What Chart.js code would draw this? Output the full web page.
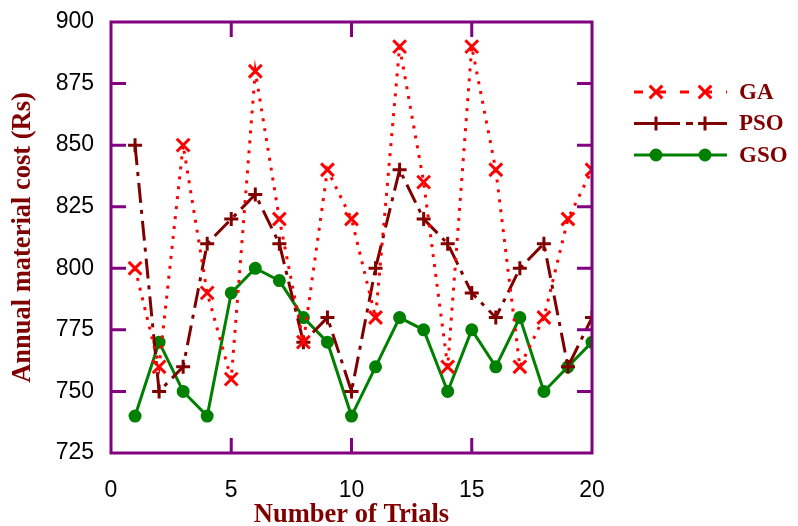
<!DOCTYPE html>
<html>
<head>
<meta charset="utf-8">
<script src="https://cdn.jsdelivr.net/npm/chart.js@4/dist/chart.umd.min.js"></script>
<style>
  html, body { margin: 0; padding: 0; background: #fff; }
  #wrap { width: 798px; height: 526px; }
</style>
</head>
<body>
<div id="wrap"><canvas id="chart" width="798" height="526"></canvas></div>
<script>
const trials = [1, 2, 3, 4, 5, 6, 7, 8, 9, 10, 11, 12, 13, 14, 15, 16, 17, 18, 19, 20];
const gaCost  = [800, 760, 850, 790, 755, 880, 820, 770, 840, 820, 780, 890, 835, 760, 890, 840, 760, 780, 820, 840];
const psoCost = [850, 750, 760, 810, 820, 830, 810, 770, 780, 750, 800, 840, 820, 810, 790, 780, 800, 810, 760, 780];
const gsoCost = [740, 770, 750, 740, 790, 800, 795, 780, 770, 740, 760, 780, 775, 750, 775, 760, 780, 750, 760, 770];

const FRAME = '#800080';
const TITLE = '#800000';

const pts = ys => trials.map((x, i) => ({ x, y: ys[i] }));

const series = [
  { label: 'GA',  data: gaCost,  color: '#ff0000', dash: [3, 7],        legendDash: [9, 14],        point: 'crossRot', radius: 9 },
  { label: 'PSO', data: psoCost, color: '#800000', dash: [20, 7, 4, 7], legendDash: [46, 6, 7, 6],  point: 'cross',    radius: 7 },
  { label: 'GSO', data: gsoCost, color: '#008000', dash: [],            legendDash: [],             point: 'circle',   radius: 5 },
];

// ── Frame, inside ticks and legend ──────────────────────────────────
const framePlugin = {
  id: 'frame',
  afterDraw(chart) {
    const { ctx, chartArea: a, scales: { x, y } } = chart;
    const tl = 15;
    ctx.save();
    ctx.strokeStyle = FRAME;
    ctx.lineWidth = 3;
    ctx.beginPath();
    for (let v = 5; v < 20; v += 5) {
      const px = x.getPixelForValue(v);
      ctx.moveTo(px, a.bottom); ctx.lineTo(px, a.bottom - tl);
      ctx.moveTo(px, a.top);    ctx.lineTo(px, a.top + tl);
    }
    for (let v = 750; v < 900; v += 25) {
      const py = y.getPixelForValue(v);
      ctx.moveTo(a.left, py);  ctx.lineTo(a.left + tl, py);
      ctx.moveTo(a.right, py); ctx.lineTo(a.right - tl, py);
    }
    ctx.stroke();
    ctx.strokeRect(a.left, a.top, a.right - a.left, a.bottom - a.top);

    // legend
    series.forEach((s, i) => {
      const ly = 92 + i * 31.5;
      ctx.strokeStyle = s.color;
      ctx.fillStyle = s.color;
      ctx.lineWidth = 3;
      ctx.setLineDash(s.legendDash);
      ctx.beginPath();
      ctx.moveTo(634, ly); ctx.lineTo(727, ly);
      ctx.stroke();
      ctx.setLineDash([]);
      for (const mx of [656, 705]) {
        Chart.helpers.drawPoint(ctx, {
          pointStyle: s.point, radius: s.radius, borderWidth: 3,
        }, mx, ly);
      }
      ctx.fillStyle = TITLE;
      ctx.font = 'bold 23px "Liberation Serif"';
      ctx.textBaseline = 'middle';
      ctx.fillText(s.label, 739, ly + 1);
    });
    ctx.restore();
  },
};

new Chart(document.getElementById('chart'), {
  type: 'line',
  data: {
    datasets: series.map(s => ({
      label: s.label,
      data: pts(s.data),
      borderColor: s.color,
      backgroundColor: s.color,
      borderWidth: 3,
      borderDash: s.dash,
      pointStyle: s.point,
      pointRadius: s.radius,
      pointBorderWidth: 3,
      pointBorderColor: s.color,
      pointBackgroundColor: s.color,
      tension: 0,
    })),
  },
  options: {
    responsive: false,
    animation: false,
    layout: { padding: { top: 22, right: 206, left: 0, bottom: 0 } },
    plugins: { legend: { display: false }, tooltip: { enabled: false } },
    scales: {
      x: {
        type: 'linear', min: 0, max: 20,
        grid: { display: false, drawTicks: false },
        border: { display: false },
        ticks: {
          stepSize: 5, padding: 24, color: '#000',
          font: { family: '"Liberation Sans"', size: 23 },
        },
        title: {
          display: true, text: 'Number of Trials', color: TITLE,
          font: { family: '"Liberation Serif"', size: 26.5, weight: 'bold', lineHeight: 0.85 },
          padding: { top: 0, bottom: 0 },
        },
        afterFit: s => { s.height = 73; s.paddingLeft = 0; s.paddingRight = 0; },
      },
      y: {
        min: 725, max: 900,
        grid: { display: false, drawTicks: false },
        border: { display: false },
        ticks: {
          stepSize: 25, padding: 17, color: '#000',
          font: { family: '"Liberation Sans"', size: 23 },
        },
        title: {
          display: true, text: 'Annual material cost (Rs)', color: TITLE,
          font: { family: '"Liberation Serif"', size: 26.5, weight: 'bold', lineHeight: 0.85 },
          padding: { top: 12, bottom: 0 },
        },
        afterFit: s => { s.width = 111; s.paddingTop = 0; s.paddingBottom = 0; },
      },
    },
  },
  plugins: [framePlugin],
});
</script>
</body>
</html>
